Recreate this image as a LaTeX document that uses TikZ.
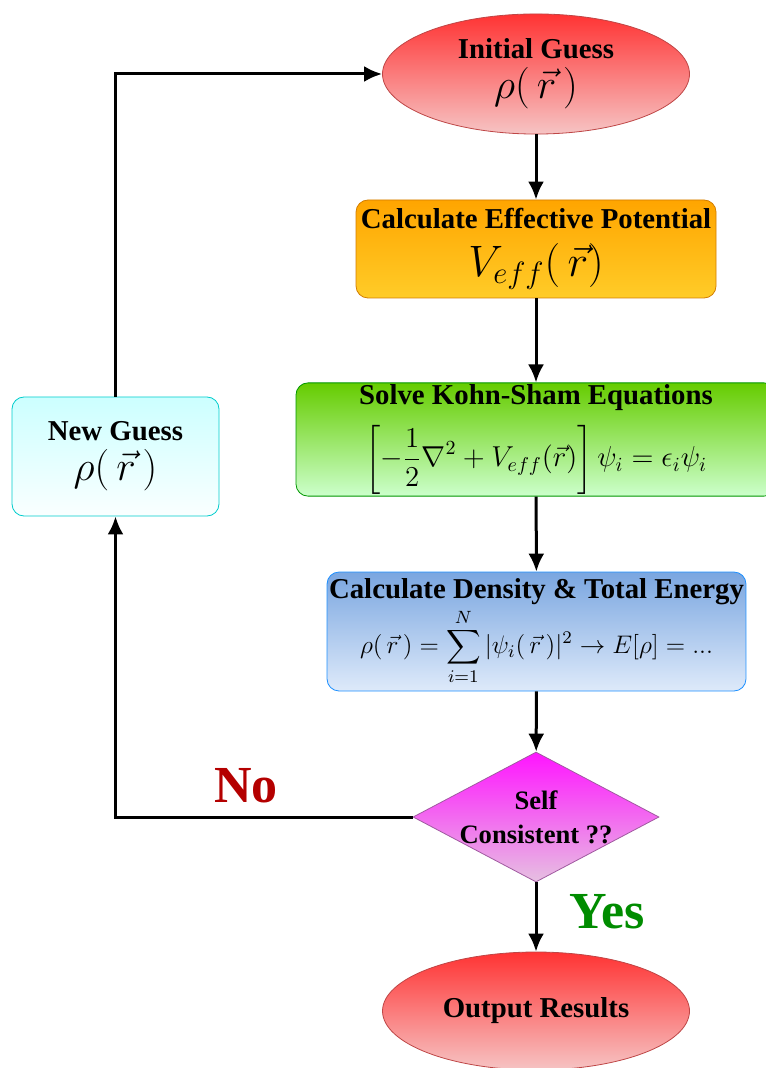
\RequirePackage{fix-cm}
\documentclass[tikz,border=0pt,11pt]{standalone}
\usepackage{amsmath}
\usepackage[no-math]{fontspec}
\setmainfont{Liberation Serif}
\usetikzlibrary{positioning, arrows.meta, shapes.geometric}

\definecolor{guessTop}{RGB}{255,51,51}
\definecolor{guessBot}{RGB}{246,196,196}
\definecolor{guessLine}{RGB}{190,70,70}
\definecolor{potTop}{RGB}{255,165,0}
\definecolor{potBot}{RGB}{255,204,40}
\definecolor{potLine}{RGB}{210,125,0}
\definecolor{ksTop}{RGB}{102,204,0}
\definecolor{ksBot}{RGB}{204,255,204}
\definecolor{ksLine}{RGB}{0,150,0}
\definecolor{densTop}{RGB}{122,166,224}
\definecolor{densBot}{RGB}{222,234,250}
\definecolor{densLine}{RGB}{30,144,255}
\definecolor{newTop}{RGB}{204,255,255}
\definecolor{newBot}{RGB}{250,255,255}
\definecolor{newLine}{RGB}{0,204,204}
\definecolor{checkTop}{RGB}{255,20,255}
\definecolor{checkBot}{RGB}{230,192,225}
\definecolor{checkLine}{RGB}{160,90,160}
\definecolor{noRed}{RGB}{180,0,0}
\definecolor{yesGreen}{RGB}{0,140,0}

\begin{document}
\begin{tikzpicture}[x=0.5pt, y=-0.5pt,
  flow/.style={-{Latex[length=9pt,width=8pt]}, line width=1.5pt},
  title/.style={font=\Large\bfseries, align=center},
  guess/.style={ellipse, draw=guessLine, top color=guessTop, bottom color=guessBot,
    minimum width=153.5pt, minimum height=59pt, title},
  stepbox/.style={rectangle, rounded corners=6pt, title, inner sep=1pt},
  answer/.style={font=\fontsize{26}{30}\selectfont\bfseries}]
\useasboundingbox (0,0) rectangle (765,1068);
% Initial guess
\node[guess] (init) at (536,74) {Initial Guess\\[2pt] \huge$\rho(\,\vec{r}\,)$};
% Effective potential
\node[stepbox, draw=potLine, top color=potTop, bottom color=potBot,
  minimum width=180pt, minimum height=49pt] (pot) at (536,249)
  {Calculate Effective Potential\\[6pt] \fontsize{22}{26}\selectfont$V_{eff}(\,\vec{r})$};
% Kohn-Sham equations
\node[stepbox, draw=ksLine, top color=ksTop, bottom color=ksBot,
  minimum width=240pt, minimum height=54.5pt] (ks) at (536,439.5)
  {Solve Kohn-Sham Equations\\[6pt]
  \Large$\displaystyle\left[-\frac{1}{2}\nabla^2+V_{eff}(\vec{r})\right]\psi_i=\epsilon_i\psi_i$};
% Density and total energy
\node[stepbox, draw=densLine, top color=densTop, bottom color=densBot,
  minimum width=207.5pt, minimum height=59.5pt] (dens) at (536.5,631.5)
  {Calculate Density \& Total Energy\\[1pt]
  \fontsize{12.7}{15}\selectfont$\displaystyle\rho(\,\vec{r}\,)=\sum_{i=1}^{N}|\psi_i(\,\vec{r}\,)|^2\rightarrow E[\rho]=...$};
% Self consistency check
\node[diamond, draw=checkLine, top color=checkTop, bottom color=checkBot,
  minimum width=123pt, minimum height=65pt, inner sep=0pt] (check) at (536,817) {};
\node[title, font=\fontsize{13.3}{17}\selectfont\bfseries] (checktext) at (check) {Self\\Consistent ??};
% Output
\node[guess] (out) at (536,1011) {Output Results};
% New guess
\node[stepbox, draw=newLine, top color=newTop, bottom color=newBot,
  minimum width=103.5pt, minimum height=59.5pt] (newg) at (115.5,456.5)
  {New Guess\\[2pt] \huge$\rho(\,\vec{r}\,)$};
% Main loop
\draw[flow] (init) -- (pot);
\draw[flow] (pot) -- (ks);
\draw[flow] (ks) -- (dens);
\draw[flow] (dens) -- (check);
\draw[flow] (check) -- (out);
% Back to new guess
\draw[flow] (check.west) -| (newg.south);
\draw[flow] (newg.north) |- (init.west);
% Answers
\node[answer, text=noRed] (no) at (246,786) {No};
\node[answer, text=yesGreen] (yes) at (607,912) {Yes};
\end{tikzpicture}
\end{document}
